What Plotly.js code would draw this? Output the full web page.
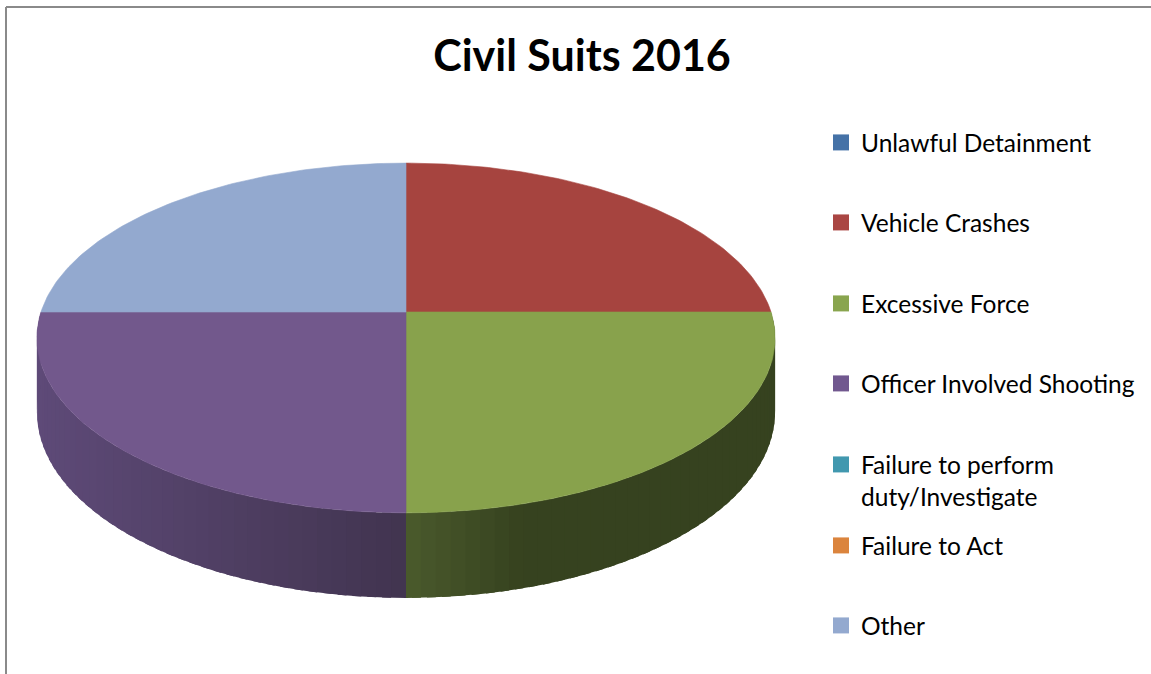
<!DOCTYPE html>
<html>
<head>
<meta charset="utf-8">
<script src="https://cdn.plot.ly/plotly-3.0.1.min.js"></script>
<style>
  html, body { margin: 0; padding: 0; background: #fff; }
  #chart { width: 1151px; height: 674px; }
</style>
</head>
<body>
<div id="chart"></div>
<script>
// ---- data ----
const categories = [
  'Unlawful Detainment',
  'Vehicle Crashes',
  'Excessive Force',
  'Officer Involved Shooting',
  'Failure to perform<br>duty/Investigate',
  'Failure to Act',
  'Other'
];
const values = [0, 1, 1, 1, 0, 0, 1];
const chartTitle = 'Civil Suits 2016';

// ---- styles ----
const topColors = ['#4572A7', '#A6443F', '#88A24C', '#72588C', '#4198AF', '#DB843D', '#93A9CF'];
const legendColors = ['#4572A7', '#AA4643', '#89A54E', '#71588F', '#4198AF', '#DB843D', '#93A9CF'];
// side gradient endpoints (by horizontal position, left -> right)
const sideGrad = {
  3: [[37, '#5e4a78'], [407, '#41344f']],
  2: [[407, '#4a5a2c'], [520, '#36421f'], [780, '#36421f']],
  1: [[407, '#5a2a28'], [780, '#5a2a28']],
  6: [[30, '#5a6a80'], [407, '#5a6a80']]
};

const W = 1151, H = 674;
const FONT = 'Lato, "Open Sans", sans-serif';

// projection of the tilted disc
const cx = 406, cy = 312, Rx = 365, Ry = 171, k = 0.1486, depth = 72.4;
function proj(thetaDeg, drop) {
  const t = thetaDeg * Math.PI / 180;
  const d = -Math.cos(t);
  const s = 1 / (1 - k * d);
  return [cx + Rx * Math.sin(t) * s, cy + Ry * d * s + drop * s];
}
function hexToRgb(h) { h = h.replace('#',''); return [0,2,4].map(i => parseInt(h.substr(i,2),16)); }
function lerpColor(stops, x) {
  if (x <= stops[0][0]) return stops[0][1];
  for (let i = 1; i < stops.length; i++) {
    if (x <= stops[i][0]) {
      const [x0, c0] = stops[i-1], [x1, c1] = stops[i];
      const f = (x - x0) / (x1 - x0);
      const a = hexToRgb(c0), b = hexToRgb(c1);
      const c = a.map((v, j) => Math.round(v + (b[j] - v) * f));
      return 'rgb(' + c.join(',') + ')';
    }
  }
  return stops[stops.length-1][1];
}

const total = values.reduce((a, b) => a + b, 0);
const angles = [];
let acc = 0;
values.forEach(v => { const a0 = acc / total * 360; acc += v; angles.push([a0, acc / total * 360]); });

const traces = [];
// sides (front half only), drawn as overlapping strips for shading
values.forEach((v, i) => {
  if (v <= 0) return;
  const a0 = Math.max(angles[i][0], 90), a1 = Math.min(angles[i][1], 270);
  if (a1 <= a0) return;
  const n = Math.max(1, Math.ceil((a1 - a0) / 2));
  for (let j = 0; j < n; j++) {
    const ta = a0 + (a1 - a0) * j / n, tb = a0 + (a1 - a0) * (j + 1) / n;
    const tbx = Math.min(a1, tb + (a1 - a0) / n * 0.6);
    const p = [proj(ta, 0), proj(tbx, 0), proj(tbx, depth), proj(ta, depth)];
    const mid = proj((ta + tb) / 2, 0)[0];
    const col = lerpColor(sideGrad[i] || [[0, topColors[i]], [W, topColors[i]]], mid);
    traces.push({
      type: 'scatter', mode: 'lines', fill: 'toself',
      x: p.map(q => q[0]).concat([p[0][0]]), y: p.map(q => q[1]).concat([p[0][1]]),
      fillcolor: col, line: { color: col, width: 0 },
      hoverinfo: 'skip', showlegend: false
    });
  }
});
// top faces
values.forEach((v, i) => {
  if (v <= 0) return;
  const [a0, a1] = angles[i];
  const xs = [cx], ys = [cy];
  const n = Math.max(2, Math.ceil(a1 - a0));
  for (let j = 0; j <= n; j++) {
    const p = proj(a0 + (a1 - a0) * j / n, 0);
    xs.push(p[0]); ys.push(p[1]);
  }
  xs.push(cx); ys.push(cy);
  traces.push({
    type: 'scatter', mode: 'lines', fill: 'toself', x: xs, y: ys,
    fillcolor: topColors[i], line: { color: topColors[i], width: 0.6 },
    name: categories[i].replace('<br>', ' '), hoverinfo: 'name', showlegend: false
  });
});
// legend entries
const legendY = [143, 223, 304, 384, 465, 546, 626];
const layoutLegends = {};
categories.forEach((c, i) => {
  const key = i === 0 ? 'legend' : 'legend' + (i + 1);
  traces.push({
    type: 'scatter', mode: 'markers', x: [null], y: [null],
    name: c, legend: key,
    marker: { symbol: 'square', size: 16, color: legendColors[i] },
    showlegend: true, hoverinfo: 'skip'
  });
  layoutLegends[key] = {
    x: 821 / W, xanchor: 'left',
    y: 1 - (legendY[i] - 23) / H, yanchor: 'top',
    valign: 'top',
    bgcolor: 'rgba(0,0,0,0)', borderwidth: 0,
    font: { family: FONT, size: 24.5, color: '#000' },
    itemclick: false, itemdoubleclick: false
  };
});

const layout = Object.assign({
  width: W, height: H,
  margin: { l: 0, r: 0, t: 0, b: 0 },
  paper_bgcolor: '#fff', plot_bgcolor: '#fff',
  title: {
    text: '<b>' + chartTitle + '</b>',
    font: { family: FONT, size: 43, color: '#000' },
    x: 582 / W, xanchor: 'center', xref: 'paper',
    y: 1 - 56 / H, yanchor: 'middle', yref: 'paper'
  },
  xaxis: { range: [0, W], visible: false, fixedrange: true },
  yaxis: { range: [H, 0], visible: false, fixedrange: true },
  shapes: [
    { type: 'line', xref: 'paper', yref: 'paper', x0: 6 / W, x1: 1, y0: 1 - 7 / H, y1: 1 - 7 / H, line: { color: '#8a8a8a', width: 2 } },
    { type: 'line', xref: 'paper', yref: 'paper', x0: 6 / W, x1: 6 / W, y0: 0, y1: 1 - 7 / H, line: { color: '#8a8a8a', width: 2 } }
  ],
  showlegend: true,
  hovermode: 'closest'
}, layoutLegends);

Plotly.newPlot('chart', traces, layout, { staticPlot: false, displayModeBar: false });
</script>
</body>
</html>
